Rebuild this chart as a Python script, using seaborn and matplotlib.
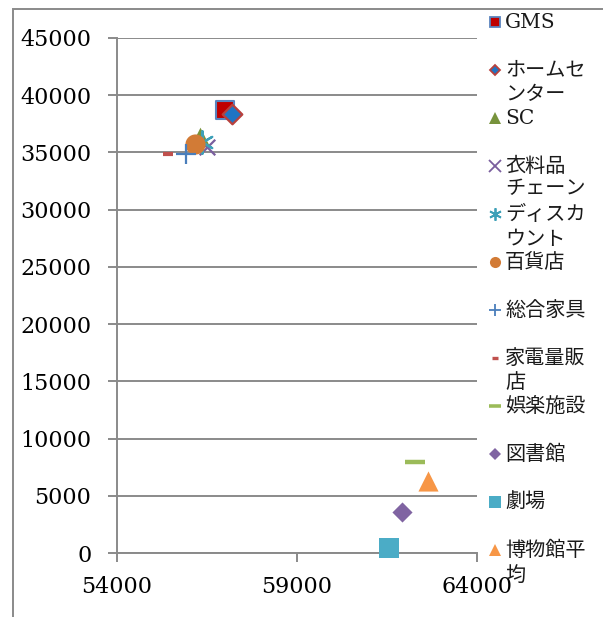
import matplotlib
matplotlib.use("Agg")
import matplotlib.pyplot as plt
from matplotlib.patches import Rectangle
import pandas as pd
import seaborn as sns

# Facility types: average x / y values
facilities = ["GMS", "ホームセンター", "SC", "衣料品", "チェーンディスカウント", "百貨店",
              "総合家具", "家電量販店", "娯楽施設", "図書館", "劇場", "博物館平均"]
x_values = [57010, 57190, 56300, 56500, 56350, 56170, 55920, 55420, 62280, 61920, 61560, 62640]
y_values = [38700, 38400, 36350, 35500, 35900, 35700, 34850, 34850, 7950, 3580, 440, 6290]

x_ticks = [54000, 59000, 64000]
y_ticks = [0, 5000, 10000, 15000, 20000, 25000, 30000, 35000, 40000, 45000]

# Legend labels as they wrap in the narrow legend column
legend_lines = [["GMS"], ["ホームセ", "ンター"], ["SC"], ["衣料品"],
                ["チェーン", "ディスカ", "ウント"], ["百貨店"], ["総合家具"],
                ["家電量販", "店"], ["娯楽施設"], ["図書館"], ["劇場"], ["博物館平", "均"]]

ASTERISK = (6, 2, 0)
styles = {
    "GMS":            dict(marker="s", face="#C00000", edge="#5B84BE", s=150, lw=1.5, ms=7.5),
    "ホームセンター":   dict(marker="D", face="#1F74C4", edge="#B8413D", s=100, lw=1.6, ms=5.5),
    "SC":             dict(marker="^", face="#77933C", edge=None, s=200, lw=0, ms=8.5),
    "衣料品":          dict(marker="x", face="#7A5E9E", edge=None, s=125, lw=1.6, ms=8),
    "チェーンディスカウント": dict(marker=ASTERISK, face="#3DA0B8", edge=None, s=260, lw=1.6, ms=9),
    "百貨店":          dict(marker="o", face="#D27B36", edge=None, s=210, lw=0, ms=8),
    "総合家具":        dict(marker="+", face="#4A7EBB", edge=None, s=200, lw=1.6, ms=8),
    "家電量販店":      dict(marker="_", face="#C0504D", edge=None, s=52, lw=3.0, ms=5),
    "娯楽施設":        dict(marker="_", face="#9BBB59", edge=None, s=207, lw=3.2, ms=8.5),
    "図書館":          dict(marker="D", face="#8064A2", edge=None, s=105, lw=0, ms=6),
    "劇場":            dict(marker="s", face="#4BACC6", edge=None, s=207, lw=0, ms=8),
    "博物館平均":      dict(marker="^", face="#F79646", edge=None, s=210, lw=0, ms=8.5),
}

df = pd.DataFrame({"facility": facilities, "x": x_values, "y": y_values})

sns.set_theme(style="white")
plt.rcParams["font.family"] = ["DejaVu Serif", "Noto Sans CJK JP"]

W, H = 603, 617
fig = plt.figure(figsize=(W / 100, H / 100), dpi=100)
ax = fig.add_axes([117 / W, 64 / H, 360 / W, 515 / H])

grey = "#8A8A8A"
for i, row in df.iterrows():
    st = styles[row["facility"]]
    kws = dict(marker=st["marker"], s=st["s"], color=st["face"], zorder=3 + i, clip_on=False)
    if st["edge"] is not None:
        kws.update(edgecolor=st["edge"], linewidth=st["lw"])
    elif st["lw"] > 0:
        kws.update(linewidth=st["lw"])
    else:
        kws.update(linewidth=0)
    sns.scatterplot(data=df.iloc[[i]], x="x", y="y", ax=ax, legend=False, **kws)

ax.set_xlim(54000, 64000)
ax.set_ylim(0, 45000)
ax.set_xticks(x_ticks)
ax.set_yticks(y_ticks)
ax.set_xlabel("")
ax.set_ylabel("")
ax.yaxis.grid(True, color=grey, linewidth=1.4)
ax.xaxis.grid(False)
ax.set_axisbelow(True)
for side in ("top", "right"):
    ax.spines[side].set_visible(False)
for side in ("left", "bottom"):
    ax.spines[side].set_color(grey)
    ax.spines[side].set_linewidth(1.4)
ax.tick_params(axis="both", direction="out", length=6.5, width=1.4, color=grey,
               labelsize=16, labelcolor="black")
ax.tick_params(axis="y", pad=12, left=True)
ax.tick_params(axis="x", pad=10, bottom=True)

# Legend column drawn row by row on its own axes
leg = fig.add_axes([0, (H - 574) / H, 1, 576 / H])
leg.set_xlim(0, W)
leg.set_ylim(len(facilities) - 0.5, -0.5)
leg.axis("off")
line_step = 25 / 48
for k, name in enumerate(facilities):
    st = styles[name]
    lkw = dict(marker=st["marker"], ms=st["ms"], linestyle="none", clip_on=False,
               color=st["face"], markerfacecolor=st["face"])
    if st["edge"] is not None:
        lkw.update(markeredgecolor=st["edge"], markeredgewidth=1.3)
    elif st["marker"] in ("x", "+", "_", ASTERISK):
        lkw.update(markeredgecolor=st["face"], markeredgewidth=max(st["lw"] * 0.8, 1.3))
    else:
        lkw.update(markeredgewidth=0)
    leg.plot([495], [k], **lkw)
    lines = legend_lines[k]
    anchor = 1 if len(lines) == 3 else 0
    for j, txt in enumerate(lines):
        leg.text(505, k + (j - anchor) * line_step, txt, fontsize=14.5, color="#1A1A1A",
                 va="center", ha="left", clip_on=False,
                 family=["DejaVu Serif", "Noto Sans CJK JP"])

# Chart-area border
fig.add_artist(Rectangle((13 / W, -0.5), 2.0, 0.5 + (H - 9) / H, transform=fig.transFigure,
                         fill=False, edgecolor=grey, linewidth=1.4))

fig.savefig("out.png", dpi=100)
